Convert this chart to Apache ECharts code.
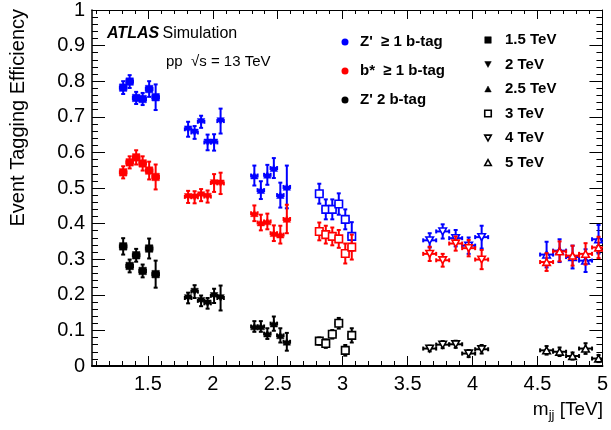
<!DOCTYPE html>
<html><head><meta charset="utf-8">
<script src="https://cdn.jsdelivr.net/npm/echarts@6/dist/echarts.min.js"></script>
<style>html,body{margin:0;padding:0;background:#fff}#c{width:611px;height:430px}</style>
</head><body><div id="c"></div>
<script>
// ---- data ----
const massLabels = ['1.5 TeV','2 TeV','2.5 TeV','3 TeV','4 TeV','5 TeV'];
const X_15 = [1.31,1.36,1.41,1.46,1.51,1.56];
const X_20 = [1.81,1.86,1.91,1.96,2.01,2.06];
const X_25 = [2.32,2.37,2.42,2.47,2.52,2.57];
const X_30 = [2.82,2.87,2.92,2.97,3.02,3.07];
const X_40 = [3.67,3.77,3.87,3.97,4.07];
const X_50 = [4.57,4.67,4.77,4.87,4.97];
const xHalfWidth = [0.025,0.025,0.025,0.025,0.05,0.05];

// Z' >= 1 b-tag (blue)
const B_15 = [0.782,0.799,0.753,0.750,0.778,0.755], B_15e = [0.018,0.018,0.017,0.017,0.022,0.036];
const B_20 = [0.665,0.656,0.686,0.628,0.628,0.688], B_20e = [0.021,0.018,0.017,0.022,0.023,0.035];
const B_25 = [0.535,0.494,0.537,0.556,0.480,0.503], B_25e = [0.028,0.025,0.028,0.028,0.035,0.060];
const B_30 = [0.484,0.440,0.440,0.455,0.412,0.364], B_30e = [0.028,0.028,0.028,0.030,0.028,0.040];
const B_40 = [0.353,0.378,0.359,0.338,0.362], B_40e = [0.020,0.020,0.023,0.023,0.032];
const B_50 = [0.313,0.324,0.306,0.296,0.356], B_50e = [0.036,0.032,0.032,0.032,0.040];
// b* >= 1 b-tag (red)
const R_15 = [0.544,0.572,0.586,0.569,0.549,0.531], R_15e = [0.017,0.017,0.020,0.020,0.025,0.035];
const R_20 = [0.475,0.474,0.480,0.476,0.514,0.513], R_20e = [0.017,0.017,0.017,0.017,0.025,0.030];
const R_25 = [0.429,0.403,0.406,0.373,0.369,0.413], R_25e = [0.022,0.022,0.022,0.022,0.025,0.040];
const R_30 = [0.378,0.369,0.364,0.357,0.316,0.334], R_30e = [0.025,0.025,0.025,0.025,0.028,0.035];
const R_40 = [0.315,0.297,0.344,0.331,0.299], R_40e = [0.020,0.018,0.020,0.023,0.027];
const R_50 = [0.292,0.322,0.310,0.315,0.333], R_50e = [0.025,0.028,0.028,0.030,0.030];
// Z' 2 b-tag (black)
const K_15 = [0.336,0.281,0.311,0.267,0.330,0.258], K_15e = [0.023,0.018,0.018,0.018,0.028,0.038];
const K_20 = [0.191,0.209,0.183,0.176,0.197,0.191], K_20e = [0.015,0.018,0.015,0.015,0.020,0.035];
const K_25 = [0.111,0.111,0.091,0.119,0.086,0.068], K_25e = [0.015,0.015,0.015,0.020,0.020,0.025];
const K_30 = [0.070,0.063,0.089,0.120,0.044,0.086], K_30e = [0.010,0.012,0.012,0.015,0.015,0.020];
const K_40 = [0.049,0.060,0.061,0.035,0.047], K_40e = [0.008,0.010,0.010,0.010,0.012];
const K_50 = [0.044,0.040,0.028,0.049,0.021], K_50e = [0.012,0.012,0.010,0.015,0.010];

const xTickLabels = [1.5,2,2.5,3,3.5,4,4.5,5];
const xMinorTicks = [1.1,1.2,1.3,1.4,1.6,1.7,1.8,1.9,2.1,2.2,2.3,2.4,2.6,2.7,2.8,2.9,3.1,3.2,3.3,3.4,3.6,3.7,3.8,3.9,4.1,4.2,4.3,4.4,4.6,4.7,4.8,4.9];

// ---- build ----
const X_ALL = [X_15,X_20,X_25,X_30,X_40,X_50];
const groups = [
  {name:"Z' ≥ 1 b-tag", color:'#0000ff', ys:[B_15,B_20,B_25,B_30,B_40,B_50], es:[B_15e,B_20e,B_25e,B_30e,B_40e,B_50e]},
  {name:"b* ≥ 1 b-tag", color:'#ff0000', ys:[R_15,R_20,R_25,R_30,R_40,R_50], es:[R_15e,R_20e,R_25e,R_30e,R_40e,R_50e]},
  {name:"Z' 2 b-tag", color:'#000000', ys:[K_15,K_20,K_25,K_30,K_40,K_50], es:[K_15e,K_20e,K_25e,K_30e,K_40e,K_50e]}
];
// marker style per mass: [shape, filled]
const markerKinds = [['square',true],['down',true],['up',true],['square',false],['down',false],['up',false]];

function markerShape(kind, filled, cx, cy, s, color) {
  const style = {fill: filled ? color : '#fff', stroke: color, lineWidth: filled ? 0.5 : 1.6};
  if (kind === 'square') {
    return {type:'rect', shape:{x:cx-s/2, y:cy-s/2, width:s, height:s}, style};
  }
  const h = s*0.9;
  const pts = kind === 'down'
    ? [[cx-s/2, cy-h/2],[cx+s/2, cy-h/2],[cx, cy+h/2]]
    : [[cx-s/2, cy+h/2],[cx+s/2, cy+h/2],[cx, cy-h/2]];
  return {type:'polygon', shape:{points:pts}, style};
}

function makeRender(color, kind, filled) {
  return function(params, api) {
    const x = api.value(0), y = api.value(1), ex = api.value(2), ey = api.value(3);
    const c = api.coord([x,y]);
    const l = api.coord([x-ex,y]), r = api.coord([x+ex,y]);
    const t = api.coord([x,y+ey]), b = api.coord([x,y-ey]);
    const ls = {stroke: color, lineWidth: 2};
    const cap = 2;
    const children = [
      {type:'line', shape:{x1:l[0],y1:c[1],x2:r[0],y2:c[1]}, style:ls},
      {type:'line', shape:{x1:c[0],y1:t[1],x2:c[0],y2:b[1]}, style:ls},
      {type:'line', shape:{x1:c[0]-cap,y1:t[1],x2:c[0]+cap,y2:t[1]}, style:ls},
      {type:'line', shape:{x1:c[0]-cap,y1:b[1],x2:c[0]+cap,y2:b[1]}, style:ls},
      {type:'line', shape:{x1:l[0],y1:c[1]-cap,x2:l[0],y2:c[1]+cap}, style:ls},
      {type:'line', shape:{x1:r[0],y1:c[1]-cap,x2:r[0],y2:c[1]+cap}, style:ls},
      markerShape(kind, filled, c[0], c[1], 7.5, color)
    ];
    return {type:'group', children};
  };
}

const series = [];
groups.forEach(g => {
  X_ALL.forEach((xs, mi) => {
    const data = xs.map((x,i) => [x, g.ys[mi][i], xHalfWidth[mi], g.es[mi][i]]);
    const [kind, filled] = markerKinds[mi];
    series.push({
      type:'custom', name: g.name + ' ' + massLabels[mi], xAxisIndex:0, yAxisIndex:0,
      clip:true, renderItem: makeRender(g.color, kind, filled), data,
      encode:{x:0, y:1}
    });
  });
});

const FONT = 'Liberation Sans, Arial, Helvetica, sans-serif';
const XMIN = 1.07, XMAX = 5;

const chart = echarts.init(document.getElementById('c'), null, {renderer:'canvas'});

// legend graphics
const graphic = [];
const leftLeg = [["Z'  ≥ 1 b-tag",'#0000ff',42],["b*  ≥ 1 b-tag",'#ff0000',71],["Z' 2 b-tag",'#000000',100]];
leftLeg.forEach(([t,c,y]) => {
  graphic.push({type:'circle', shape:{cx:345, cy:y, r:3.5}, style:{fill:c}});
  graphic.push({type:'text', x:360, y:y, style:{text:t, fill:'#000', font:'bold 15px '+FONT, verticalAlign:'middle'}});
});
const rightY = [40,64.5,89,113.5,138,162.5];
massLabels.forEach((t,i) => {
  const [kind, filled] = markerKinds[i];
  graphic.push(markerShape(kind, filled, 488, rightY[i], 6.5, '#000'));
  graphic.push({type:'text', x:505, y:rightY[i], style:{text:t, fill:'#000', font:'bold 15px '+FONT, verticalAlign:'middle'}});
});
graphic.push({type:'text', x:107, y:34, style:{
  text:'{a|ATLAS} {b|Simulation}', verticalAlign:'middle',
  rich:{a:{font:'bold italic 16px '+FONT, fill:'#000'}, b:{font:'16px '+FONT, fill:'#000'}}}});
graphic.push({type:'text', x:166, y:62, style:{text:'pp  √s = 13 TeV', font:'15px '+FONT, fill:'#000', verticalAlign:'middle'}});
graphic.push({type:'text', x:18, y:9, rotation:Math.PI/2, style:{text:'Event Tagging Efficiency', font:'20px '+FONT, fill:'#000', align:'right', verticalAlign:'middle'}});
graphic.push({type:'text', x:603, y:410, style:{
  text:'{m|m}{s|jj}{m| [TeV]}', align:'right', verticalAlign:'middle',
  rich:{m:{font:'19px '+FONT, fill:'#000'}, s:{font:'13px '+FONT, fill:'#000', verticalAlign:'bottom', padding:[10,0,0,0]}}}});

const gridPos = {left:92, right:8, top:6, bottom:64};
const baseX = {type:'value', min:XMIN, max:XMAX, splitLine:{show:false}, gridIndex:0};
const option = {
  animation:false,
  backgroundColor:'#fff',
  grid:[gridPos],
  xAxis:[
    Object.assign({}, baseX, {position:'bottom',
      axisLine:{show:true, onZero:false, lineStyle:{color:'#000', width:2}},
      axisTick:{show:true, inside:true, length:10, customValues:xTickLabels, lineStyle:{color:'#000', width:1}},
      axisLabel:{show:true, customValues:xTickLabels, color:'#000', fontSize:20, fontFamily:FONT, margin:8,
        formatter:v => String(+v.toFixed(1)).replace(/\.0$/,'')}}),
    Object.assign({}, baseX, {position:'bottom',
      axisLine:{show:false, onZero:false},
      axisTick:{show:true, inside:true, length:5, customValues:xMinorTicks, lineStyle:{color:'#000', width:1}},
      axisLabel:{show:false}}),
    Object.assign({}, baseX, {position:'top',
      axisLine:{show:true, onZero:false, lineStyle:{color:'#000', width:1}},
      axisTick:{show:true, inside:true, length:9, customValues:xTickLabels, lineStyle:{color:'#000', width:1}},
      axisLabel:{show:false}}),
    Object.assign({}, baseX, {position:'top',
      axisLine:{show:false, onZero:false},
      axisTick:{show:true, inside:true, length:4, customValues:xMinorTicks, lineStyle:{color:'#000', width:1}},
      axisLabel:{show:false}})
  ],
  yAxis:[
    {type:'value', min:0, max:1, interval:0.1, position:'left', splitLine:{show:false},
      axisLine:{show:true, onZero:false, lineStyle:{color:'#000', width:1.5}},
      axisTick:{show:true, inside:true, length:13, lineStyle:{color:'#000', width:1}},
      minorTick:{show:true, splitNumber:5, length:6, lineStyle:{color:'#000', width:1}},
      axisLabel:{color:'#000', fontSize:20, fontFamily:FONT, margin:7,
        formatter:v => String(+v.toFixed(1))}},
    {type:'value', min:0, max:1, interval:0.1, position:'right', splitLine:{show:false},
      axisLine:{show:true, onZero:false, lineStyle:{color:'#000', width:1}},
      axisTick:{show:true, inside:true, length:13, lineStyle:{color:'#000', width:1}},
      minorTick:{show:true, splitNumber:5, length:6, lineStyle:{color:'#000', width:1}},
      axisLabel:{show:false}}
  ],
  graphic,
  series
};
chart.setOption(option);
</script>
</body></html>
